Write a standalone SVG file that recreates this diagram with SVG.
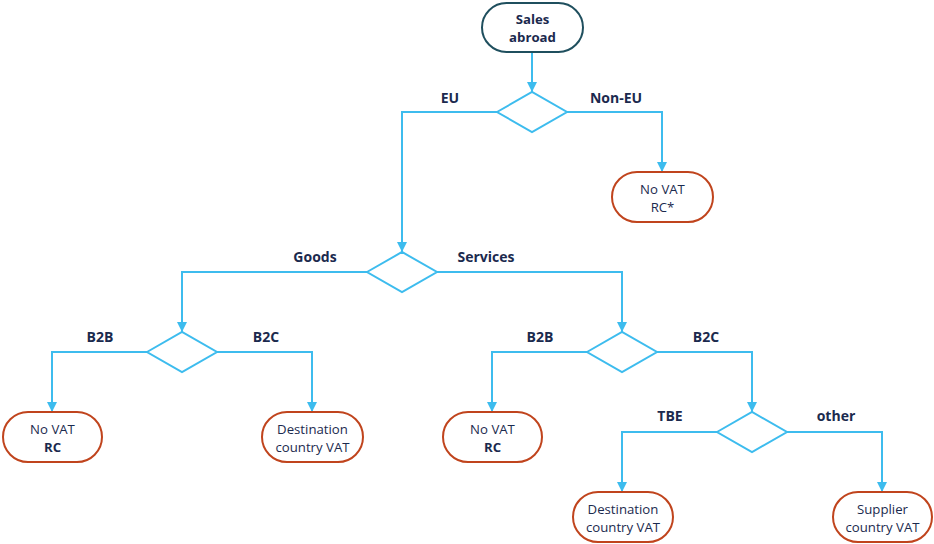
<svg xmlns="http://www.w3.org/2000/svg" width="934" height="544" viewBox="0 0 934 544">
<style>
.c{fill:none;stroke:#3dbcee;stroke-width:2}
.d{fill:#fff;stroke:#3dbcee;stroke-width:2}
.s{fill:#fff;stroke:#1f4f5e;stroke-width:2}
.e{fill:#fff;stroke:#c0441d;stroke-width:2}
text{font-family:"Open Sans","Noto Sans","Liberation Sans",sans-serif;fill:#1b2a4e;text-anchor:middle;font-size:13.2px}
.b{font-weight:bold}
.l{font-weight:bold;font-size:14px}
</style>
<defs>
<marker id="a" markerUnits="userSpaceOnUse" markerWidth="10" markerHeight="12" refX="10" refY="5" orient="auto" viewBox="0 0 10 10">
<path d="M0,0 L10,5 L0,10 Z" fill="#3dbcee"/>
</marker>
</defs>
<g id="connectors">
<path class="c" d="M532,52 V92" marker-end="url(#a)"/>
<path class="c" d="M497,112 H402 V252" marker-end="url(#a)"/>
<path class="c" d="M567,112 H662 V172" marker-end="url(#a)"/>
<path class="c" d="M367,272 H182 V332" marker-end="url(#a)"/>
<path class="c" d="M437,272 H622 V332" marker-end="url(#a)"/>
<path class="c" d="M147,352 H52 V412" marker-end="url(#a)"/>
<path class="c" d="M217,352 H312 V412" marker-end="url(#a)"/>
<path class="c" d="M587,352 H492 V412" marker-end="url(#a)"/>
<path class="c" d="M657,352 H752 V412" marker-end="url(#a)"/>
<path class="c" d="M717,432 H622 V492" marker-end="url(#a)"/>
<path class="c" d="M787,432 H882 V492" marker-end="url(#a)"/>
<text class="l" x="450" y="103">EU</text>
<text class="l" x="616" y="103">Non-EU</text>
<text class="l" x="315" y="262">Goods</text>
<text class="l" x="486" y="262">Services</text>
<text class="l" x="100" y="342">B2B</text>
<text class="l" x="266" y="342">B2C</text>
<text class="l" x="540" y="342">B2B</text>
<text class="l" x="706" y="342">B2C</text>
<text class="l" x="670" y="421">TBE</text>
<text class="l" x="836" y="421">other</text>
</g>
<g id="start">
<rect class="s" x="482" y="3" width="101" height="49" rx="24.5"/>
<text class="b" x="532.5" y="23.5">Sales</text>
<text class="b" x="532.5" y="41.5">abroad</text>
</g>
<g id="d1"><path class="d" d="M497,112 L532,92 L567,112 L532,132 Z"/></g>
<g id="novat-rcstar">
<rect class="e" x="612" y="172" width="101" height="50" rx="25"/>
<text x="662.5" y="193.5">No VAT</text>
<text x="662.5" y="211.5">RC*</text>
</g>
<g id="d2"><path class="d" d="M367,272 L402,252 L437,272 L402,292 Z"/></g>
<g id="d3"><path class="d" d="M147,352 L182,332 L217,352 L182,372 Z"/></g>
<g id="d4"><path class="d" d="M587,352 L622,332 L657,352 L622,372 Z"/></g>
<g id="d5"><path class="d" d="M717,432 L752,412 L787,432 L752,452 Z"/></g>
<g id="novat-rc-1">
<rect class="e" x="3" y="412" width="99" height="50" rx="25"/>
<text x="52.5" y="433.5">No VAT</text>
<text class="b" x="52.5" y="451.5">RC</text>
</g>
<g id="dest-1">
<rect class="e" x="262" y="412" width="101" height="50" rx="25"/>
<text x="312.5" y="433.5">Destination</text>
<text x="312.5" y="451.5">country VAT</text>
</g>
<g id="novat-rc-2">
<rect class="e" x="443" y="412" width="99" height="50" rx="25"/>
<text x="492.5" y="433.5">No VAT</text>
<text class="b" x="492.5" y="451.5">RC</text>
</g>
<g id="dest-2">
<rect class="e" x="573" y="492" width="100" height="50" rx="25"/>
<text x="623" y="513.5">Destination</text>
<text x="623" y="531.5">country VAT</text>
</g>
<g id="supplier">
<rect class="e" x="833" y="492" width="99" height="50" rx="25"/>
<text x="882.5" y="513.5">Supplier</text>
<text x="882.5" y="531.5">country VAT</text>
</g>
</svg>
